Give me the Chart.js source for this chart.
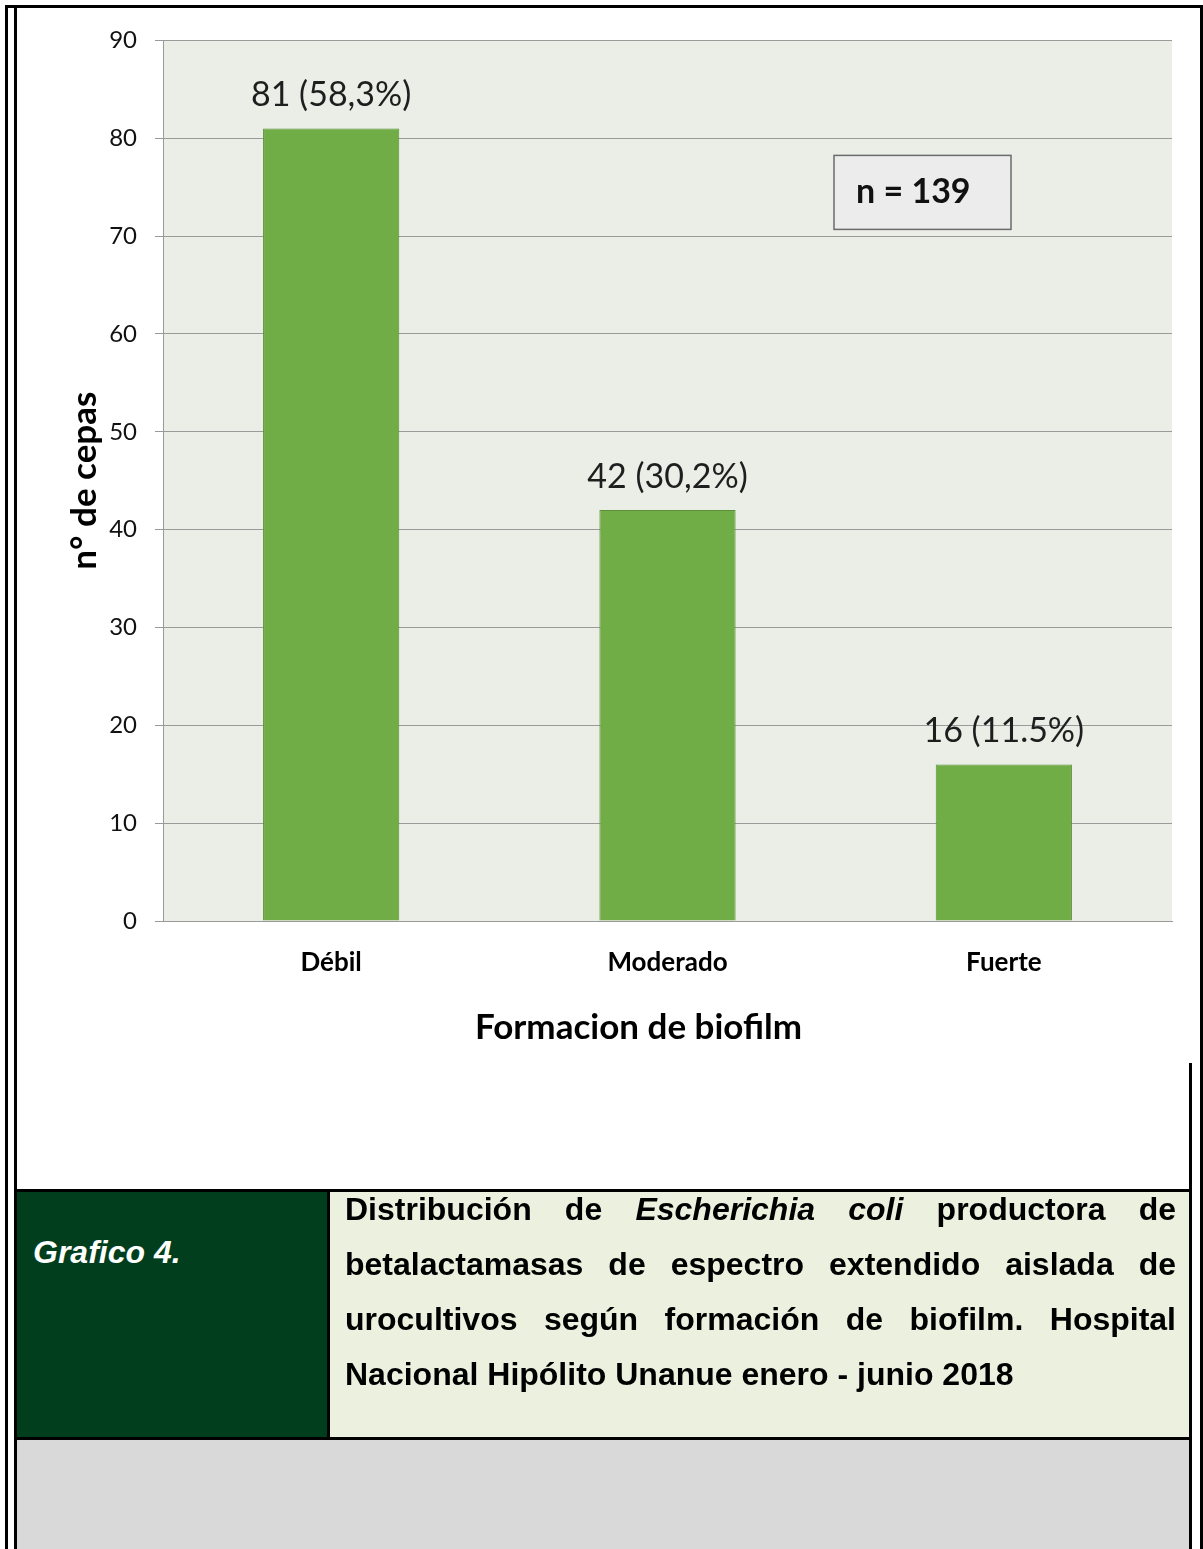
<!DOCTYPE html>
<html lang="es">
<head>
<meta charset="utf-8">
<title>Formacion de biofilm</title>
<script src="https://cdn.jsdelivr.net/npm/chart.js@4.4.1/dist/chart.umd.min.js"></script>
<style>
  html, body { margin: 0; padding: 0; background: #fff; }
  body {
    width: 1203px; height: 1549px; position: relative; overflow: hidden;
    font-family: "Liberation Sans", Arial, sans-serif;
  }
  .rule { position: absolute; background: #000; z-index: 3; }
  .cell { position: absolute; z-index: 1; }
  #chartBox { position: absolute; left: 17px; top: 8px; width: 1183px; height: 1063px; z-index: 2; }
  #figLabel {
    position: absolute; left: 33px; top: 1234px; z-index: 4;
    color: #fff; font-size: 32px; line-height: 36px; font-weight: bold; font-style: italic;
  }
  #caption {
    position: absolute; left: 345px; top: 1182px; width: 831px; z-index: 4;
    color: #000; font-size: 32px; line-height: 55px; font-weight: bold;
  }
  #caption div { text-align: justify; text-align-last: justify; white-space: nowrap; }
  #caption div.last { text-align-last: left; }
</style>
</head>
<body>

<!-- page frame -->
<div class="rule" style="left:5px; top:5px; width:1198px; height:3px;"></div>
<div class="rule" style="left:5px; top:5px; width:3px; height:1544px;"></div>
<div class="rule" style="left:14px; top:5px; width:3px; height:1544px;"></div>
<div class="rule" style="left:1200px; top:5px; width:3px; height:1544px;"></div>
<div class="rule" style="left:1189px; top:1063px; width:3px; height:486px;"></div>

<!-- caption table -->
<div class="cell" style="left:17px; top:1192px; width:310px; height:245px; background:#013e1e;"></div>
<div class="cell" style="left:330px; top:1192px; width:859px; height:245px; background:#ebf1de;"></div>
<div class="cell" style="left:17px; top:1440px; width:1172px; height:109px; background:#d9d9d9;"></div>
<div class="rule" style="left:14px; top:1189px; width:1178px; height:3px;"></div>
<div class="rule" style="left:14px; top:1437px; width:1178px; height:3px;"></div>
<div class="rule" style="left:327px; top:1189px; width:3px; height:250px;"></div>

<div id="figLabel">Grafico 4.</div>
<div id="caption">
  <div>Distribución de <i>Escherichia coli</i> productora de</div>
  <div>betalactamasas de espectro extendido aislada de</div>
  <div>urocultivos según formación de biofilm. Hospital</div>
  <div class="last">Nacional Hipólito Unanue enero - junio 2018</div>
</div>

<div id="chartBox"><canvas id="chart" width="1183" height="1063"></canvas></div>

<script>
// Strains per biofilm category
const categories = ['Débil', 'Moderado', 'Fuerte'];
const counts = [81, 42, 16];
const percents = ['58,3%', '30,2%', '11.5%'];
const sampleSize = 139;

// Y axis range
const yMin = 0;
const yMax = 90;
const yStep = 10;

Chart.defaults.font.family = 'Lato';

// Light plot background behind the bars
const plotBackground = {
    id: 'plotBackground',
    beforeDraw(chart) {
        const { ctx, chartArea: a } = chart;
        ctx.save();
        ctx.fillStyle = '#eaeee6';
        ctx.fillRect(a.left, a.top, a.right - a.left, a.bottom - a.top);
        ctx.restore();
    }
};

// "count (percent)" above each bar
const barLabels = {
    id: 'barLabels',
    afterDatasetsDraw(chart) {
        const { ctx } = chart;
        const meta = chart.getDatasetMeta(0);
        ctx.save();
        ctx.font = '34px Lato';
        ctx.fillStyle = '#1e1e1e';
        ctx.textAlign = 'center';
        ctx.textBaseline = 'middle';
        meta.data.forEach((bar, i) => {
            ctx.fillText(counts[i] + ' (' + percents[i] + ')', bar.x, bar.y - 33);
        });
        ctx.restore();
    }
};

// Sample size text box and the x axis caption
const annotations = {
    id: 'annotations',
    afterDraw(chart) {
        const { ctx, chartArea: a } = chart;
        const left = a.left + 671;
        const top = a.top + 115;
        const w = 177;
        const h = 74;
        ctx.save();
        ctx.fillStyle = '#ececec';
        ctx.fillRect(left, top, w, h);
        ctx.strokeStyle = '#6b6b6b';
        ctx.lineWidth = 1.5;
        ctx.strokeRect(left, top, w, h);
        ctx.font = 'bold 34px Lato';
        ctx.fillStyle = '#111';
        ctx.textAlign = 'left';
        ctx.textBaseline = 'middle';
        ctx.fillText('n = ' + sampleSize, left + 22, top + h / 2);

        // axis caption sits a little left of the plot centre
        ctx.font = 'bold 35px Lato';
        ctx.fillStyle = '#000';
        ctx.textAlign = 'center';
        ctx.fillText('Formacion de biofilm', (a.left + a.right) / 2 - 29, a.bottom + 107);
        ctx.restore();
    }
};

new Chart(document.getElementById('chart'), {
    type: 'bar',
    data: {
        labels: categories,
        datasets: [{
            data: counts,
            backgroundColor: '#70ad47',
            borderColor: '#5b8f3a',
            borderWidth: 1,
            categoryPercentage: 1,
            barPercentage: 0.405
        }]
    },
    options: {
        responsive: false,
        animation: false,
        devicePixelRatio: 1,
        layout: { padding: { top: 30, right: 28, left: 0, bottom: 0 } },
        plugins: {
            legend: { display: false },
            tooltip: { enabled: false }
        },
        scales: {
            x: {
                offset: true,
                grid: { display: false, drawTicks: false },
                border: { display: true, color: '#9a9a9a', width: 1 },
                ticks: {
                    padding: 26,
                    color: '#000',
                    font: { size: 26, weight: 'bold' }
                },
                afterFit(scale) { scale.height = 150; }
            },
            y: {
                min: yMin,
                max: yMax,
                ticks: {
                    stepSize: yStep,
                    padding: 18,
                    color: '#111',
                    font: { size: 24 }
                },
                grid: { color: '#9a9a9a', lineWidth: 1, tickLength: 8 },
                border: { display: true, color: '#9a9a9a', width: 1 },
                title: {
                    display: true,
                    text: 'n° de cepas',
                    color: '#000',
                    font: { size: 35, weight: 'bold' },
                    padding: { top: 47, bottom: 0 }
                },
                afterFit(scale) { scale.width = 146; }
            }
        }
    },
    plugins: [plotBackground, barLabels, annotations]
});
</script>
</body>
</html>
